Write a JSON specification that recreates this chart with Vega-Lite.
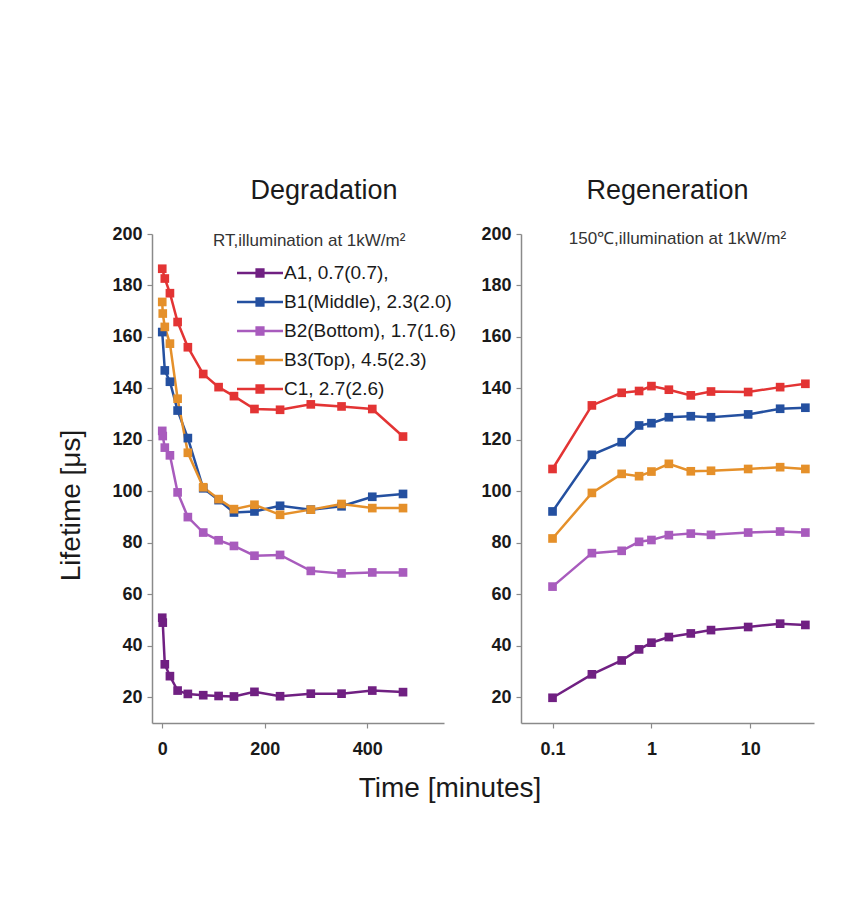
{
  "$schema": "https://vega.github.io/schema/vega-lite/v6.json",
  "background": "white",
  "padding": {"left": 57, "top": 177, "right": 20, "bottom": 100},
  "title": {"text": "Time [minutes]", "orient": "bottom", "anchor": "middle", "fontSize": 28, "fontWeight": "normal", "font": "Liberation Sans", "color": "#1a1a1a", "offset": 17, "dx": 14},
  "datasets": {
    "deg": [
      {"s": "A1, 0.7(0.7),", "t": 0, "v": 50.9}, {"s": "A1, 0.7(0.7),", "t": 1, "v": 49.0}, {"s": "A1, 0.7(0.7),", "t": 5, "v": 32.8}, {"s": "A1, 0.7(0.7),", "t": 15, "v": 28.2}, {"s": "A1, 0.7(0.7),", "t": 30, "v": 22.6}, {"s": "A1, 0.7(0.7),", "t": 50, "v": 21.3}, {"s": "A1, 0.7(0.7),", "t": 80, "v": 20.8}, {"s": "A1, 0.7(0.7),", "t": 110, "v": 20.5}, {"s": "A1, 0.7(0.7),", "t": 140, "v": 20.3}, {"s": "A1, 0.7(0.7),", "t": 180, "v": 22.1}, {"s": "A1, 0.7(0.7),", "t": 230, "v": 20.4}, {"s": "A1, 0.7(0.7),", "t": 290, "v": 21.4}, {"s": "A1, 0.7(0.7),", "t": 350, "v": 21.4}, {"s": "A1, 0.7(0.7),", "t": 410, "v": 22.6}, {"s": "A1, 0.7(0.7),", "t": 470, "v": 22.0},
      {"s": "B1(Middle), 2.3(2.0)", "t": 0, "v": 161.9}, {"s": "B1(Middle), 2.3(2.0)", "t": 5, "v": 147.0}, {"s": "B1(Middle), 2.3(2.0)", "t": 15, "v": 142.6}, {"s": "B1(Middle), 2.3(2.0)", "t": 30, "v": 131.4}, {"s": "B1(Middle), 2.3(2.0)", "t": 50, "v": 120.7}, {"s": "B1(Middle), 2.3(2.0)", "t": 80, "v": 101.2}, {"s": "B1(Middle), 2.3(2.0)", "t": 110, "v": 96.6}, {"s": "B1(Middle), 2.3(2.0)", "t": 140, "v": 91.8}, {"s": "B1(Middle), 2.3(2.0)", "t": 180, "v": 92.2}, {"s": "B1(Middle), 2.3(2.0)", "t": 230, "v": 94.4}, {"s": "B1(Middle), 2.3(2.0)", "t": 290, "v": 92.9}, {"s": "B1(Middle), 2.3(2.0)", "t": 350, "v": 94.2}, {"s": "B1(Middle), 2.3(2.0)", "t": 410, "v": 97.9}, {"s": "B1(Middle), 2.3(2.0)", "t": 470, "v": 99.0},
      {"s": "B2(Bottom), 1.7(1.6)", "t": 0, "v": 123.5}, {"s": "B2(Bottom), 1.7(1.6)", "t": 1, "v": 121.5}, {"s": "B2(Bottom), 1.7(1.6)", "t": 5, "v": 117.0}, {"s": "B2(Bottom), 1.7(1.6)", "t": 15, "v": 114.0}, {"s": "B2(Bottom), 1.7(1.6)", "t": 30, "v": 99.6}, {"s": "B2(Bottom), 1.7(1.6)", "t": 50, "v": 90.0}, {"s": "B2(Bottom), 1.7(1.6)", "t": 80, "v": 84.0}, {"s": "B2(Bottom), 1.7(1.6)", "t": 110, "v": 81.0}, {"s": "B2(Bottom), 1.7(1.6)", "t": 140, "v": 78.8}, {"s": "B2(Bottom), 1.7(1.6)", "t": 180, "v": 75.0}, {"s": "B2(Bottom), 1.7(1.6)", "t": 230, "v": 75.3}, {"s": "B2(Bottom), 1.7(1.6)", "t": 290, "v": 69.1}, {"s": "B2(Bottom), 1.7(1.6)", "t": 350, "v": 68.1}, {"s": "B2(Bottom), 1.7(1.6)", "t": 410, "v": 68.5}, {"s": "B2(Bottom), 1.7(1.6)", "t": 470, "v": 68.5},
      {"s": "B3(Top), 4.5(2.3)", "t": 0, "v": 173.6}, {"s": "B3(Top), 4.5(2.3)", "t": 1, "v": 169.1}, {"s": "B3(Top), 4.5(2.3)", "t": 5, "v": 163.9}, {"s": "B3(Top), 4.5(2.3)", "t": 15, "v": 157.4}, {"s": "B3(Top), 4.5(2.3)", "t": 30, "v": 136.0}, {"s": "B3(Top), 4.5(2.3)", "t": 50, "v": 115.0}, {"s": "B3(Top), 4.5(2.3)", "t": 80, "v": 101.6}, {"s": "B3(Top), 4.5(2.3)", "t": 110, "v": 97.0}, {"s": "B3(Top), 4.5(2.3)", "t": 140, "v": 93.1}, {"s": "B3(Top), 4.5(2.3)", "t": 180, "v": 94.8}, {"s": "B3(Top), 4.5(2.3)", "t": 230, "v": 90.9}, {"s": "B3(Top), 4.5(2.3)", "t": 290, "v": 92.9}, {"s": "B3(Top), 4.5(2.3)", "t": 350, "v": 95.1}, {"s": "B3(Top), 4.5(2.3)", "t": 410, "v": 93.5}, {"s": "B3(Top), 4.5(2.3)", "t": 470, "v": 93.5},
      {"s": "C1, 2.7(2.6)", "t": 0, "v": 186.5}, {"s": "C1, 2.7(2.6)", "t": 5, "v": 182.7}, {"s": "C1, 2.7(2.6)", "t": 15, "v": 177.0}, {"s": "C1, 2.7(2.6)", "t": 30, "v": 165.8}, {"s": "C1, 2.7(2.6)", "t": 50, "v": 156.0}, {"s": "C1, 2.7(2.6)", "t": 80, "v": 145.6}, {"s": "C1, 2.7(2.6)", "t": 110, "v": 140.5}, {"s": "C1, 2.7(2.6)", "t": 140, "v": 137.0}, {"s": "C1, 2.7(2.6)", "t": 180, "v": 132.0}, {"s": "C1, 2.7(2.6)", "t": 230, "v": 131.7}, {"s": "C1, 2.7(2.6)", "t": 290, "v": 133.8}, {"s": "C1, 2.7(2.6)", "t": 350, "v": 133.0}, {"s": "C1, 2.7(2.6)", "t": 410, "v": 132.0}, {"s": "C1, 2.7(2.6)", "t": 470, "v": 121.3}
    ],
    "reg": [
      {"s": "A1, 0.7(0.7),", "t": 0.1, "v": 19.8}, {"s": "A1, 0.7(0.7),", "t": 0.25, "v": 28.9}, {"s": "A1, 0.7(0.7),", "t": 0.5, "v": 34.3}, {"s": "A1, 0.7(0.7),", "t": 0.75, "v": 38.6}, {"s": "A1, 0.7(0.7),", "t": 1, "v": 41.2}, {"s": "A1, 0.7(0.7),", "t": 1.5, "v": 43.4}, {"s": "A1, 0.7(0.7),", "t": 2.5, "v": 44.8}, {"s": "A1, 0.7(0.7),", "t": 4, "v": 46.1}, {"s": "A1, 0.7(0.7),", "t": 9.5, "v": 47.3}, {"s": "A1, 0.7(0.7),", "t": 20, "v": 48.6}, {"s": "A1, 0.7(0.7),", "t": 36, "v": 48.1},
      {"s": "B1(Middle), 2.3(2.0)", "t": 0.1, "v": 92.2}, {"s": "B1(Middle), 2.3(2.0)", "t": 0.25, "v": 114.2}, {"s": "B1(Middle), 2.3(2.0)", "t": 0.5, "v": 119.1}, {"s": "B1(Middle), 2.3(2.0)", "t": 0.75, "v": 125.6}, {"s": "B1(Middle), 2.3(2.0)", "t": 1, "v": 126.5}, {"s": "B1(Middle), 2.3(2.0)", "t": 1.5, "v": 128.8}, {"s": "B1(Middle), 2.3(2.0)", "t": 2.5, "v": 129.2}, {"s": "B1(Middle), 2.3(2.0)", "t": 4, "v": 128.8}, {"s": "B1(Middle), 2.3(2.0)", "t": 9.5, "v": 129.9}, {"s": "B1(Middle), 2.3(2.0)", "t": 20, "v": 132.1}, {"s": "B1(Middle), 2.3(2.0)", "t": 36, "v": 132.5},
      {"s": "B2(Bottom), 1.7(1.6)", "t": 0.1, "v": 63.0}, {"s": "B2(Bottom), 1.7(1.6)", "t": 0.25, "v": 76.0}, {"s": "B2(Bottom), 1.7(1.6)", "t": 0.5, "v": 76.9}, {"s": "B2(Bottom), 1.7(1.6)", "t": 0.75, "v": 80.4}, {"s": "B2(Bottom), 1.7(1.6)", "t": 1, "v": 81.1}, {"s": "B2(Bottom), 1.7(1.6)", "t": 1.5, "v": 83.0}, {"s": "B2(Bottom), 1.7(1.6)", "t": 2.5, "v": 83.6}, {"s": "B2(Bottom), 1.7(1.6)", "t": 4, "v": 83.1}, {"s": "B2(Bottom), 1.7(1.6)", "t": 9.5, "v": 84.0}, {"s": "B2(Bottom), 1.7(1.6)", "t": 20, "v": 84.4}, {"s": "B2(Bottom), 1.7(1.6)", "t": 36, "v": 84.0},
      {"s": "B3(Top), 4.5(2.3)", "t": 0.1, "v": 81.7}, {"s": "B3(Top), 4.5(2.3)", "t": 0.25, "v": 99.4}, {"s": "B3(Top), 4.5(2.3)", "t": 0.5, "v": 106.8}, {"s": "B3(Top), 4.5(2.3)", "t": 0.75, "v": 105.9}, {"s": "B3(Top), 4.5(2.3)", "t": 1, "v": 107.7}, {"s": "B3(Top), 4.5(2.3)", "t": 1.5, "v": 110.7}, {"s": "B3(Top), 4.5(2.3)", "t": 2.5, "v": 107.8}, {"s": "B3(Top), 4.5(2.3)", "t": 4, "v": 108.0}, {"s": "B3(Top), 4.5(2.3)", "t": 9.5, "v": 108.7}, {"s": "B3(Top), 4.5(2.3)", "t": 20, "v": 109.4}, {"s": "B3(Top), 4.5(2.3)", "t": 36, "v": 108.7},
      {"s": "C1, 2.7(2.6)", "t": 0.1, "v": 108.7}, {"s": "C1, 2.7(2.6)", "t": 0.25, "v": 133.4}, {"s": "C1, 2.7(2.6)", "t": 0.5, "v": 138.3}, {"s": "C1, 2.7(2.6)", "t": 0.75, "v": 139.0}, {"s": "C1, 2.7(2.6)", "t": 1, "v": 140.9}, {"s": "C1, 2.7(2.6)", "t": 1.5, "v": 139.5}, {"s": "C1, 2.7(2.6)", "t": 2.5, "v": 137.3}, {"s": "C1, 2.7(2.6)", "t": 4, "v": 138.8}, {"s": "C1, 2.7(2.6)", "t": 9.5, "v": 138.6}, {"s": "C1, 2.7(2.6)", "t": 20, "v": 140.5}, {"s": "C1, 2.7(2.6)", "t": 36, "v": 141.8}
    ],
    "note": [{"t": 1.83, "v": 198, "label": "150℃,illumination at 1kW/m²"}]
  },
  "spacing": 23,
  "hconcat": [
    {
      "width": 292,
      "height": 489,
      "title": {"text": "Degradation", "fontSize": 27, "fontWeight": "normal", "font": "Liberation Sans", "color": "#1a1a1a", "dx": 26, "offset": 20},
      "data": {"name": "deg"},
      "layer": [
        {
          "mark": {"type": "line", "strokeWidth": 2.5},
          "encoding": {
            "x": {"field": "t", "type": "quantitative", "scale": {"domain": [-20, 550], "nice": false, "zero": false}, "axis": {"values": [0, 200, 400], "title": null, "labelPadding": 12}},
            "y": {"field": "v", "type": "quantitative", "scale": {"domain": [10, 200], "nice": false, "zero": false}, "axis": {"values": [20, 40, 60, 80, 100, 120, 140, 160, 180, 200], "title": "Lifetime [μs]", "titleFontSize": 28, "titlePadding": 26, "titleY": 271, "labelPadding": 5}},
            "color": {
              "field": "s", "type": "nominal",
              "scale": {"domain": ["A1, 0.7(0.7),", "B1(Middle), 2.3(2.0)", "B2(Bottom), 1.7(1.6)", "B3(Top), 4.5(2.3)", "C1, 2.7(2.6)"], "range": ["#702082", "#2450a0", "#a85bbd", "#e5902a", "#e33434"]},
              "legend": {
                "orient": "none", "legendX": 61, "legendY": -1, "padding": 0,
                "title": "RT,illumination at 1kW/m²", "titleFont": "Liberation Sans", "titleFontSize": 17, "titleFontWeight": "normal", "titleColor": "#333333", "titlePadding": 10, "titleLimit": 400,
                "labelFont": "Liberation Sans", "labelFontSize": 19, "labelColor": "#1a1a1a", "labelLimit": 300,
                "symbolType": "M-2,0H2M-0.4,-0.3H0.4M-0.4,-0.15H0.4M-0.4,0H0.4M-0.4,0.15H0.4M-0.4,0.3H0.4",
                "symbolSize": 529, "symbolStrokeWidth": 2.5, "symbolOffset": 34, "labelOffset": 11, "rowPadding": 6
              }
            }
          }
        },
        {
          "mark": {"type": "point", "shape": "square", "filled": true, "size": 75, "opacity": 1},
          "encoding": {
            "x": {"field": "t", "type": "quantitative"},
            "y": {"field": "v", "type": "quantitative"},
            "color": {"field": "s", "type": "nominal", "legend": null}
          }
        }
      ]
    },
    {
      "width": 293,
      "height": 489,
      "title": {"text": "Regeneration", "fontSize": 27, "fontWeight": "normal", "font": "Liberation Sans", "color": "#1a1a1a", "offset": 20},
      "layer": [
        {
          "data": {"name": "reg"},
          "mark": {"type": "line", "strokeWidth": 2.5},
          "encoding": {
            "x": {"field": "t", "type": "quantitative", "scale": {"type": "log", "domain": [0.048, 44], "nice": false}, "axis": {"values": [0.1, 1, 10], "format": "~g", "title": null, "labelPadding": 12}},
            "y": {"field": "v", "type": "quantitative", "scale": {"domain": [10, 200], "nice": false, "zero": false}, "axis": {"values": [20, 40, 60, 80, 100, 120, 140, 160, 180, 200], "title": null, "labelPadding": 5}},
            "color": {"field": "s", "type": "nominal", "legend": null}
          }
        },
        {
          "data": {"name": "reg"},
          "mark": {"type": "point", "shape": "square", "filled": true, "size": 75, "opacity": 1},
          "encoding": {
            "x": {"field": "t", "type": "quantitative"},
            "y": {"field": "v", "type": "quantitative"},
            "color": {"field": "s", "type": "nominal", "legend": null}
          }
        },
        {
          "data": {"name": "note"},
          "mark": {"type": "text", "font": "Liberation Sans", "fontSize": 17, "color": "#333333", "align": "center", "baseline": "middle"},
          "encoding": {
            "x": {"field": "t", "type": "quantitative"},
            "y": {"field": "v", "type": "quantitative"},
            "text": {"field": "label"}
          }
        }
      ]
    }
  ],
  "resolve": {"scale": {"color": "shared"}, "legend": {"color": "independent"}},
  "config": {
    "view": {"stroke": null},
    "font": "Liberation Sans",
    "axis": {"grid": false, "domainColor": "#8a8a8a", "tickColor": "#8a8a8a", "domainWidth": 1.5, "tickWidth": 1.2, "tickSize": 5, "labelFont": "Liberation Sans", "labelFontWeight": "bold", "labelFontSize": 18, "labelColor": "#1a1a1a", "titleFont": "Liberation Sans", "titleFontWeight": "normal", "titleFontSize": 27, "titleColor": "#1a1a1a"}
  }
}
